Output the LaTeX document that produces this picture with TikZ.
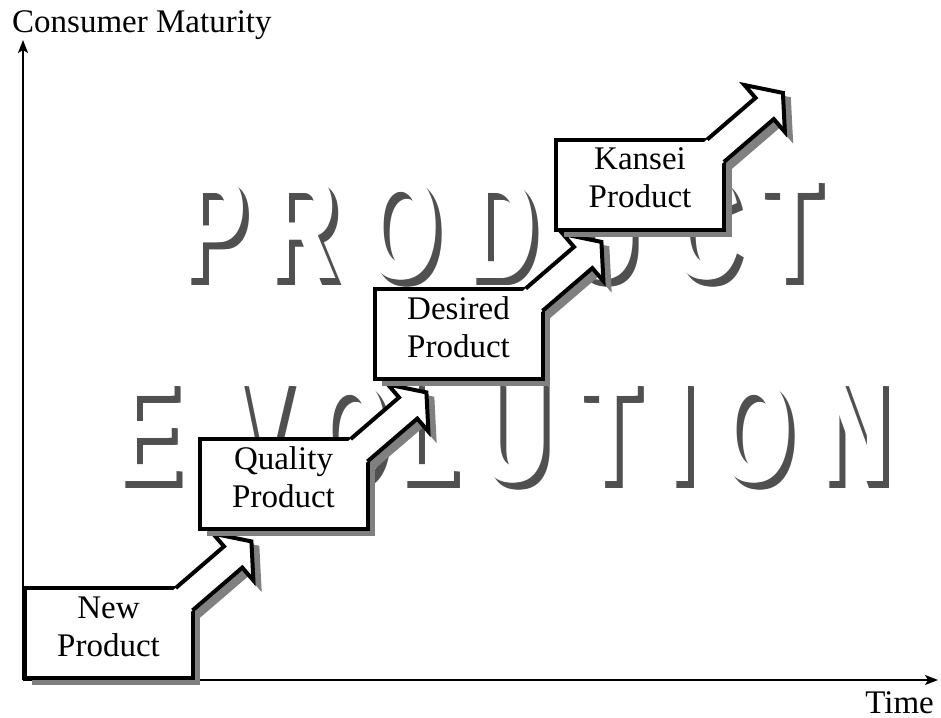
\documentclass[tikz,border=0pt]{standalone}
\usepackage{fontspec}
\setmainfont{Liberation Serif}
\newfontfamily\wordart{Liberation Sans}
\usepackage{xcolor}
\usetikzlibrary{arrows.meta, positioning, shadows}

\definecolor{shadowgray}{HTML}{808080}
\definecolor{lettergray}{HTML}{505050}

\pgfdeclarelayer{letters}
\pgfdeclarelayer{arrowshade}
\pgfsetlayers{letters,arrowshade,main}

\tikzset{
  stagebox/.style={draw, fill=white, line width=4pt, outer sep=0pt, inner sep=0pt,
    minimum width=168pt, minimum height=90pt, align=center, text depth=13.5pt,
    font=\fontsize{33}{38}\selectfont,
    drop shadow={shadow xshift=7.5pt, shadow yshift=-7pt, fill=shadowgray, opacity=1}},
  axisline/.style={line width=1.4pt, -{Stealth[length=13pt, width=10pt, inset=3pt]}},
  axisname/.style={inner sep=0pt, font=\fontsize{33}{38}\selectfont},
  bigletter/.style={anchor=base, xscale=0.64, inner sep=0pt,
    font=\wordart\bfseries\fontsize{148}{148}\selectfont},
}

% block arrow leaving the top right corner of a box
\newcommand{\stagearrow}[1]{%
  \begin{scope}[shift={(#1.north east)}]
    \begin{pgfonlayer}{arrowshade}
      \filldraw[shadowgray, line width=4pt, shift={(6,6)}] (-22.4,4.7) -- (31.5,-41.6) -- (20.4,-54.5)
        -- (58.9,-46.6) -- (60.9,-7.5) -- (49.8,-20.4) -- (-4.1,25.9) -- cycle;
    \end{pgfonlayer}
    \fill[white] (-22.4,4.7) -- (31.5,-41.6) -- (20.4,-54.5)
      -- (58.9,-46.6) -- (60.9,-7.5) -- (49.8,-20.4) -- (-4.1,25.9) -- cycle;
    \draw[line width=4pt] (-16.8,0) -- (31.5,-41.6) -- (20.4,-54.5)
      -- (58.9,-46.6) -- (60.9,-7.5) -- (49.8,-20.4) -- (0,22.4);
  \end{scope}}

\begin{document}
\begin{tikzpicture}[x=1pt, y=-1pt]
    \useasboundingbox (0,0) rectangle (941,717);

    % Background word art (shadow first, then white letter, both thickened)
    \begin{pgfonlayer}{letters}
    \foreach \ch/\cx in {P/213, R/302, O/401, D/501, U/603, C/705, T/789} {
        \foreach \dx in {-2,0,2}
            \node[bigletter, lettergray] at (\cx+\dx+6, 285) {\ch};
        \foreach \dx in {-2,0,2}
            \node[bigletter, white] at (\cx+\dx, 278) {\ch};
    }
    \foreach \ch/\cx in {E/147, V/258, O/350, L/426, U/514, T/608, I/680, O/754, N/854} {
        \foreach \dx in {-2,0,2}
            \node[bigletter, lettergray] at (\cx+\dx+6, 488) {\ch};
        \foreach \dx in {-2,0,2}
            \node[bigletter, white] at (\cx+\dx, 481) {\ch};
    }
    \end{pgfonlayer}

    % Axes
    \coordinate (origin) at (23,680);
    \coordinate (ytop) at (23,40);
    \coordinate (xend) at (938,680);
    \draw[axisline] (origin) -- (ytop);
    \draw[axisline] (origin) -- (xend);
    \node[axisname, anchor=base west] (yname) at (12,33) {Consumer Maturity};
    \node[axisname, anchor=base east] (xname) at (934,713) {Time};

    % Stages
    \node[stagebox] (newprod) at (108.5,633) {New\\Product};
    \stagearrow{newprod}
    \node[stagebox] (qualprod) at (283.5,484) {Quality\\Product};
    \stagearrow{qualprod}
    \node[stagebox] (desprod) at (458.5,333.5) {Desired\\Product};
    \stagearrow{desprod}
    \node[stagebox] (kanprod) at (640,184.5) {Kansei\\Product};
    \stagearrow{kanprod}
\end{tikzpicture}
\end{document}
